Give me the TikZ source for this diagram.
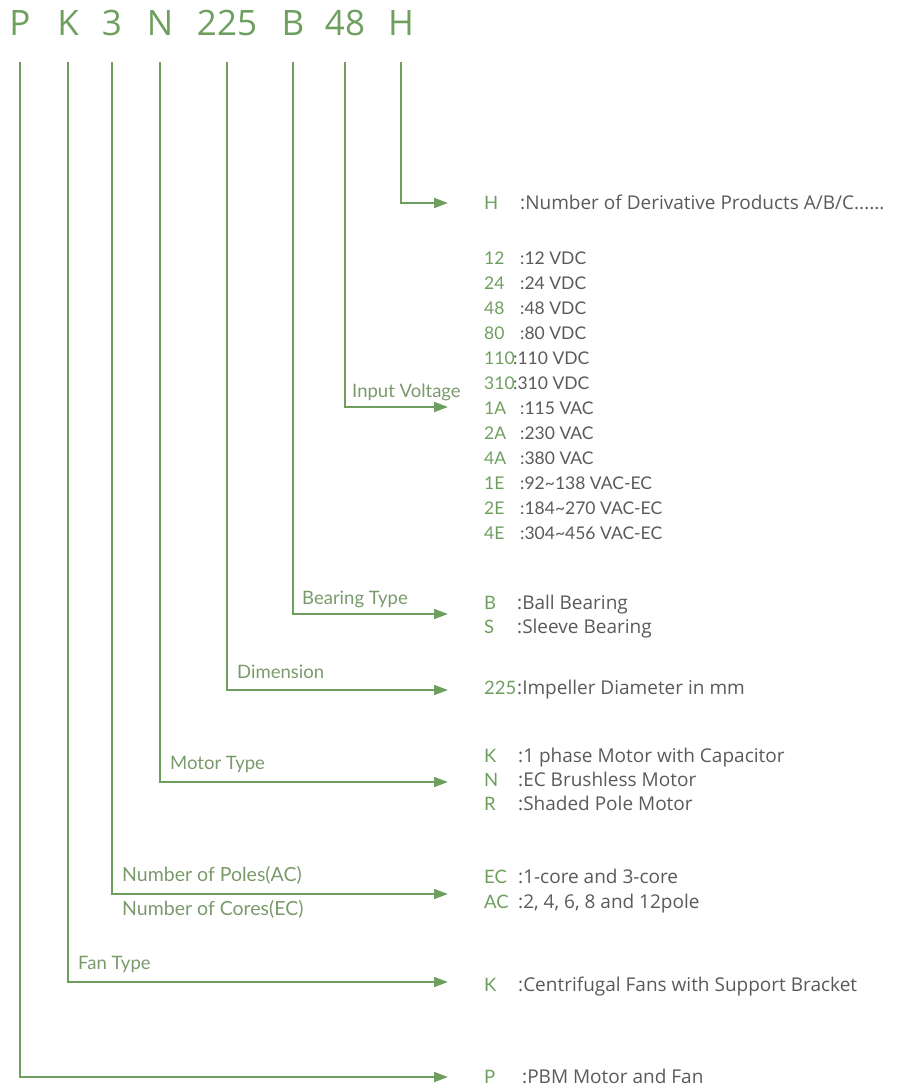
\documentclass[tikz,border=0pt]{standalone}
\usepackage{fontspec}
\setmainfont{Open Sans}
\newfontfamily\lbfont{Lato}
\usetikzlibrary{positioning,arrows.meta}
\definecolor{pgreen}{HTML}{6E9F5F}
\definecolor{lgreen}{HTML}{7A9A6C}
\definecolor{dgray}{HTML}{5A5A5A}
\tikzset{
  code/.style={text=pgreen, font=\fontsize{35}{35}\selectfont, inner sep=0pt, text height=25pt, text depth=0pt},
  ln/.style={draw=pgreen, line width=1.8pt, -{Triangle[length=14pt,width=10pt]}},
  lab/.style={text=lgreen, font=\lbfont\fontsize{18.5}{18.5}\selectfont, inner sep=0pt, anchor=west, text height=13pt, text depth=0pt},
  key/.style={text=pgreen, font=\lbfont\fontsize{18.5}{18.5}\selectfont, inner sep=0pt, anchor=west, text height=13pt, text depth=0pt},
  desc/.style={text=dgray, font=\fontsize{19}{19}\selectfont, inner sep=0pt, anchor=west, text height=13.5pt, text depth=0pt},
  vdesc/.style={text=dgray, font=\lbfont\fontsize{17.5}{17.5}\selectfont, inner sep=0pt, anchor=west, text height=12.5pt, text depth=0pt},
  x=1pt, y=-1pt
}
\begin{document}
\begin{tikzpicture}
	\useasboundingbox (0,0) rectangle (899,1088);
	% model code
	\node[code] (cP) at (20,23) {P};
	\node[code] (cK) at (68,23) {K};
	\node[code] (c3) at (112,23) {3};
	\node[code] (cN) at (160,23) {N};
	\node[code] (c225) at (227,23) {225};
	\node[code] (cB) at (293,23) {B};
	\node[code] (c48) at (345,23) {48};
	\node[code] (cH) at (401,23) {H};
	\coordinate (top) at (0,62);
	%
	\coordinate (tH) at (448,203);
	\coordinate (tV) at (448,407);
	\coordinate (tB) at (448,614);
	\coordinate (tD) at (448,690);
	\coordinate (tM) at (448,782);
	\coordinate (tPC) at (448,894);
	\coordinate (tF) at (448,982);
	\coordinate (tP) at (448,1077);
	%
	\draw[ln] (cH |- top) |- (tH);
	\draw[ln] (c48 |- top) |- (tV);
	\draw[ln] (cB |- top) |- (tB);
	\draw[ln] (c225 |- top) |- (tD);
	\draw[ln] (cN |- top) |- (tM);
	\draw[ln] (c3 |- top) |- (tPC);
	\draw[ln] (cK |- top) |- (tF);
	\draw[ln] (cP |- top) |- (tP);
	% labels
	\node[lab] (lV) at (352,391) {Input Voltage};
	\node[lab] (lB) at (302,598) {Bearing Type};
	\node[lab] (lD) at (237,672) {Dimension};
	\node[lab] (lM) at (170,763) {Motor Type};
	\node[lab, font=\lbfont\fontsize{19.5}{19.5}\selectfont] (lPo) at (122,875) {Number of Poles(AC)};
	\node[lab, font=\lbfont\fontsize{19.5}{19.5}\selectfont] (lCo) at (122,909) {Number of Cores(EC)};
	\node[lab] (lF) at (78,963) {Fan Type};
	% H
	\node[key] (kH) at (484,203) {H};
	\node[desc] (dH) at (520,203) {:Number of Derivative Products A/B/C......};
	% voltage
	\foreach \i/\c/\d/\x in {0/12/12 VDC/520, 1/24/24 VDC/520, 2/48/48 VDC/520, 3/80/80 VDC/520,
	  4/110/110 VDC/513, 5/310/310 VDC/513, 6/1A/115 VAC/520, 7/2A/230 VAC/520, 8/4A/380 VAC/520,
	  9/1E/92\textasciitilde138 VAC-EC/520, 10/2E/184\textasciitilde270 VAC-EC/520, 11/4E/304\textasciitilde456 VAC-EC/520}
	  {
	  \node[key, font=\lbfont\fontsize{17.5}{17.5}\selectfont] (kV\i) at (484,258+25*\i) {\c};
	  \node[vdesc] (dV\i) at (\x,258+25*\i) {:\d};
	  }
	% bearing
	\node[key] (kB) at (484,603) {B};
	\node[desc] (dB) at (517,603) {:Ball Bearing};
	\node[key] (kS) at (484,627) {S};
	\node[desc] (dS) at (517,627) {:Sleeve Bearing};
	% dimension
	\node[key] (kD) at (484,688) {225};
	\node[desc] (dD) at (517,688) {:Impeller Diameter in mm};
	% motor
	\node[key] (kMK) at (484,756) {K};
	\node[desc] (dMK) at (518,756) {:1 phase Motor with Capacitor};
	\node[key] (kMN) at (484,780) {N};
	\node[desc] (dMN) at (518,780) {:EC Brushless Motor};
	\node[key] (kMR) at (484,804) {R};
	\node[desc] (dMR) at (518,804) {:Shaded Pole Motor};
	% poles / cores
	\node[key] (kEC) at (484,877) {EC};
	\node[desc] (dEC) at (518,877) {:1-core and 3-core};
	\node[key] (kAC) at (484,902) {AC};
	\node[desc] (dAC) at (518,902) {:2, 4, 6, 8 and 12pole};
	% fan
	\node[key] (kF) at (484,985) {K};
	\node[desc] (dF) at (518,985) {:Centrifugal Fans with Support Bracket};
	% brand
	\node[key] (kP) at (484,1077) {P};
	\node[desc] (dP) at (522,1077) {:PBM Motor and Fan};
\end{tikzpicture}
\end{document}
